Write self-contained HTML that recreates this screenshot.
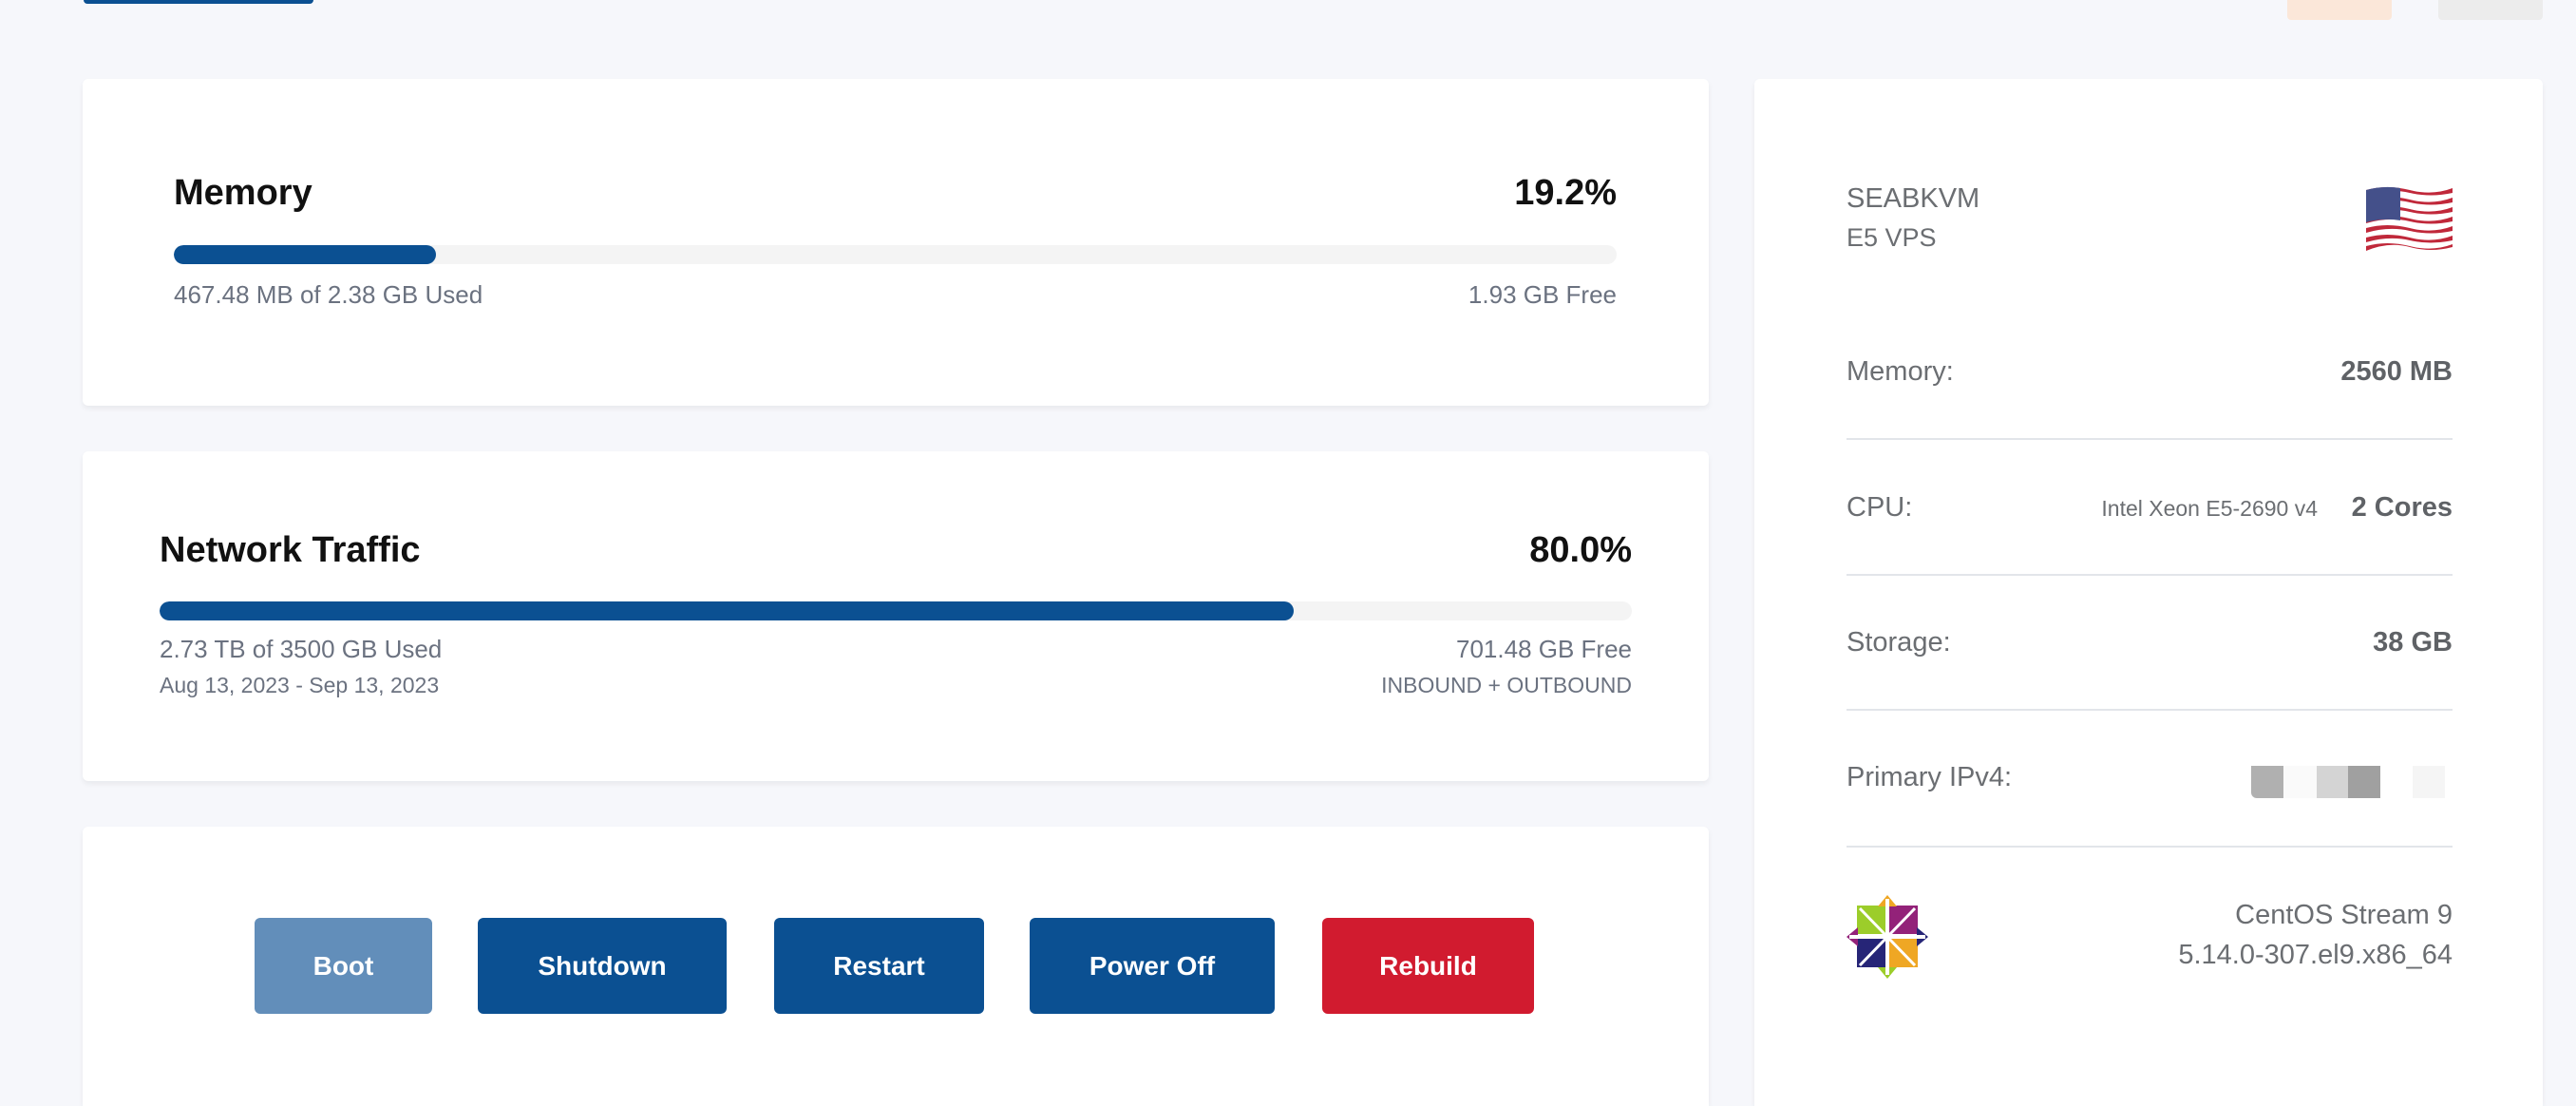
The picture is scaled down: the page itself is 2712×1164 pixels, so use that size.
<!DOCTYPE html>
<html><head><meta charset="utf-8"><style>
*{margin:0;padding:0;box-sizing:border-box}
html,body{width:2712px;height:1164px;overflow:hidden}
body{background:#f6f7fb;position:relative;font-family:"Liberation Sans",sans-serif}
.a{position:absolute;line-height:1;white-space:nowrap}
.card{position:absolute;background:#fff;border-radius:6px;box-shadow:0 3px 6px rgba(0,0,0,0.06)}
.t{font-size:38px;font-weight:bold;color:#111}
.s{font-size:26px;color:#6b7280}
.s2{font-size:23px;color:#6b7280}
.r{font-size:29px;color:#6b6e72}
.rv{font-size:29px;color:#5f6266;font-weight:bold}
.track{position:absolute;background:#f4f4f4;border-radius:10px;overflow:hidden}
.fill{position:absolute;left:0;top:0;height:100%;background:#0b5092;border-radius:10px}
.sep{position:absolute;left:1944px;width:638px;height:2px;background:#e2e5ea}
.btn{position:absolute;top:966px;height:101px;border-radius:6px;color:#fff;font-weight:bold;font-size:28px;display:flex;align-items:center;justify-content:center}
</style></head><body>
<div class="a" style="left:88px;top:0;width:242px;height:4px;background:#0b5092;border-radius:0 0 4px 4px"></div>
<div class="a" style="left:2408px;top:0;width:110px;height:21px;background:#fbe7d9;border-radius:0 0 4px 4px"></div>
<div class="a" style="left:2567px;top:0;width:110px;height:21px;background:#ececec;border-radius:0 0 4px 4px"></div>

<div class="card" style="left:87px;top:83px;width:1712px;height:344px"></div>
<div class="a t" style="left:183px;top:184px">Memory</div>
<div class="a t" style="right:1010px;top:184px">19.2%</div>
<div class="track" style="left:183px;top:258px;width:1519px;height:20px"><div class="fill" style="width:18.2%"></div></div>
<div class="a s" style="left:183px;top:297px">467.48 MB of 2.38 GB Used</div>
<div class="a s" style="right:1010px;top:297px">1.93 GB Free</div>

<div class="card" style="left:87px;top:475px;width:1712px;height:347px"></div>
<div class="a t" style="left:168px;top:560px">Network Traffic</div>
<div class="a t" style="right:994px;top:560px">80.0%</div>
<div class="track" style="left:168px;top:633px;width:1550px;height:20px"><div class="fill" style="width:77%"></div></div>
<div class="a s" style="left:168px;top:670px">2.73 TB of 3500 GB Used</div>
<div class="a s" style="right:994px;top:670px">701.48 GB Free</div>
<div class="a s2" style="left:168px;top:710px">Aug 13, 2023 - Sep 13, 2023</div>
<div class="a s2" style="right:994px;top:710px">INBOUND + OUTBOUND</div>

<div class="card" style="left:87px;top:870px;width:1712px;height:294px;border-radius:6px 6px 0 0"></div>
<div class="btn" style="left:268px;width:187px;background:#628eba">Boot</div>
<div class="btn" style="left:503px;width:262px;background:#0b5092">Shutdown</div>
<div class="btn" style="left:815px;width:221px;background:#0b5092">Restart</div>
<div class="btn" style="left:1084px;width:258px;background:#0b5092">Power Off</div>
<div class="btn" style="left:1392px;width:223px;background:#d11b2f">Rebuild</div>

<div class="card" style="left:1847px;top:83px;width:830px;height:1081px;border-radius:6px 6px 0 0"></div>
<div class="a r" style="left:1944px;top:195px">SEABKVM</div>
<div class="a r" style="left:1944px;top:237px;font-size:27px">E5 VPS</div>
<svg class="a" style="left:2489px;top:192px" width="95" height="76" viewBox="0 0 95 76">
<g>
<path d="M2,8 Q24,2 48,8 T93,6 V68 Q70,74 48,68 T2,72 Z" fill="#fff"/>
<path d="M2,8 Q24,2 48,8 T93,6 V11 Q70,16 48,11 T2,13Z" fill="#c0283a"/>
<path d="M2,18 Q24,12 48,18 T93,16 V21 Q70,26 48,21 T2,23Z" fill="#c0283a"/>
<path d="M2,28 Q24,22 48,28 T93,26 V31 Q70,36 48,31 T2,33Z" fill="#c0283a"/>
<path d="M2,38 Q24,32 48,38 T93,36 V41 Q70,46 48,41 T2,43Z" fill="#c0283a"/>
<path d="M2,48 Q24,42 48,48 T93,46 V51 Q70,56 48,51 T2,53Z" fill="#c0283a"/>
<path d="M2,58 Q24,52 48,58 T93,56 V61 Q70,66 48,61 T2,63Z" fill="#c0283a"/>
<path d="M2,67 Q24,61 48,67 T93,65 V68 Q70,74 48,68 T2,72Z" fill="#c0283a"/>
<path d="M2,8 Q20,3 38,6 V40 Q20,37 2,42Z" fill="#44508a"/>
</g></svg>

<div class="a r" style="left:1944px;top:377px">Memory:</div>
<div class="a rv" style="right:130px;top:377px">2560 MB</div>
<div class="sep" style="top:461px"></div>
<div class="a r" style="left:1944px;top:520px">CPU:</div>
<div class="a" style="right:272px;top:524px;font-size:23px;color:#6b6e72">Intel Xeon E5-2690 v4</div>
<div class="a rv" style="right:130px;top:520px">2 Cores</div>
<div class="sep" style="top:604px"></div>
<div class="a r" style="left:1944px;top:662px">Storage:</div>
<div class="a rv" style="right:130px;top:662px">38 GB</div>
<div class="sep" style="top:746px"></div>
<div class="a r" style="left:1944px;top:804px">Primary IPv4:</div>
<div class="a" style="left:2370px;top:806px;width:204px;height:34px">
<div class="a" style="left:0;top:0;width:34px;height:34px;background:#b0b0b0;border-radius:0 0 0 6px"></div>
<div class="a" style="left:34px;top:0;width:35px;height:34px;background:#fafafa"></div>
<div class="a" style="left:69px;top:0;width:33px;height:34px;background:#d4d4d4"></div>
<div class="a" style="left:102px;top:0;width:34px;height:34px;background:#a0a0a0"></div>
<div class="a" style="left:170px;top:0;width:34px;height:34px;background:#f5f5f5"></div>
</div>
<div class="sep" style="top:890px"></div>
<svg class="a" style="left:1944px;top:942px" width="86" height="88" viewBox="0 0 86 88">
<rect x="11" y="11" width="30" height="30" fill="#9ccd2a"/>
<rect x="45" y="11" width="30" height="30" fill="#932279"/>
<rect x="11" y="46" width="30" height="30" fill="#262577"/>
<rect x="45" y="46" width="30" height="30" fill="#efa724"/>
<polygon points="43,0 53,12 33,12" fill="#efa724"/>
<polygon points="43,88 53,76 33,76" fill="#9ccd2a"/>
<polygon points="0,44 12,34 12,54" fill="#932279"/>
<polygon points="86,44 74,34 74,54" fill="#262577"/>
<rect x="41" y="4" width="4" height="80" fill="#fff"/>
<rect x="3" y="42" width="80" height="4" fill="#fff"/>
<line x1="14" y1="14" x2="72" y2="74" stroke="#fff" stroke-width="3"/>
<line x1="72" y1="14" x2="14" y2="74" stroke="#fff" stroke-width="3"/>
</svg>
<div class="a r" style="right:130px;top:949px">CentOS Stream 9</div>
<div class="a r" style="right:130px;top:991px">5.14.0-307.el9.x86_64</div>
</body></html>
